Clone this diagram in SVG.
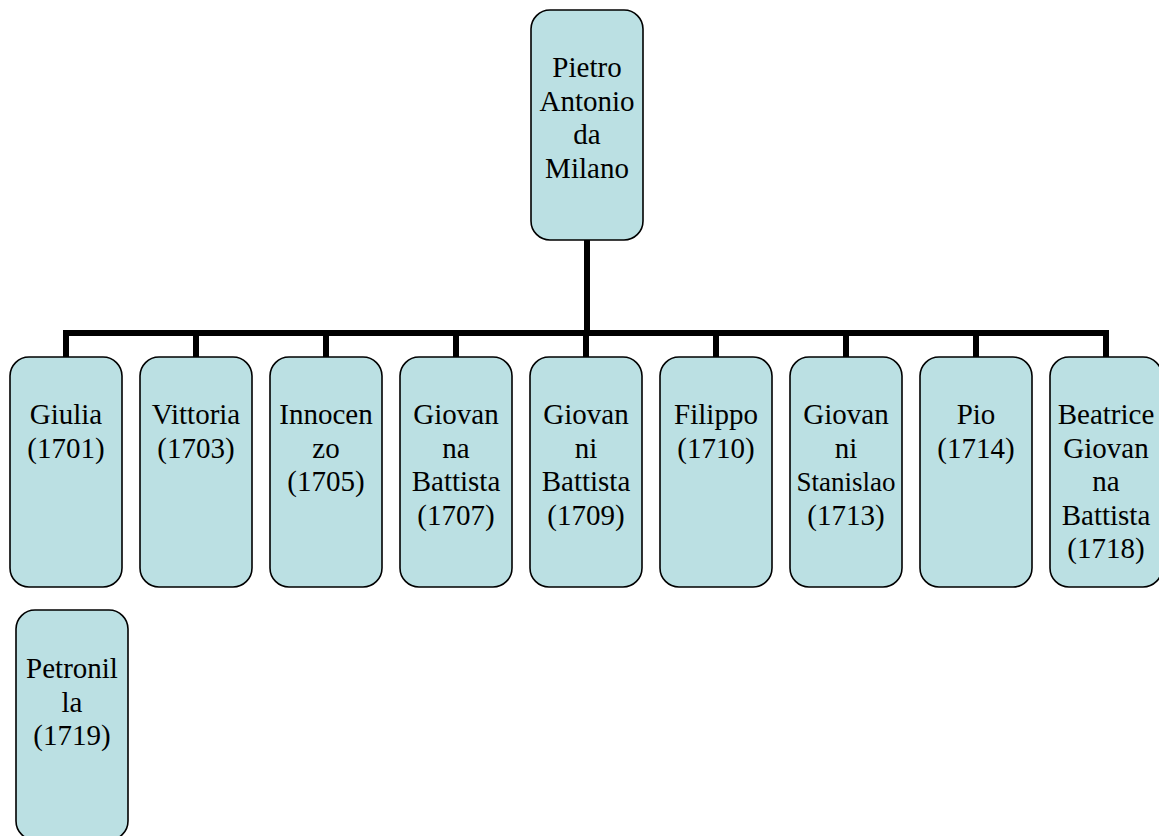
<svg xmlns="http://www.w3.org/2000/svg" width="1159" height="836" viewBox="0 0 1159 836">
<style>
.box{fill:#BBE0E3;stroke:#000;stroke-width:1.6}
.c{stroke:#000;stroke-width:6;fill:none}
</style>
<rect width="1159" height="836" fill="#fff"/>
<g id="connectors">
<line class="c" x1="587" y1="240" x2="587" y2="333"/>
<line class="c" x1="63" y1="333" x2="1109" y2="333"/>
<line class="c" x1="66" y1="330" x2="66" y2="357"/>
<line class="c" x1="196" y1="330" x2="196" y2="357"/>
<line class="c" x1="326" y1="330" x2="326" y2="357"/>
<line class="c" x1="456" y1="330" x2="456" y2="357"/>
<line class="c" x1="586" y1="330" x2="586" y2="357"/>
<line class="c" x1="716" y1="330" x2="716" y2="357"/>
<line class="c" x1="846" y1="330" x2="846" y2="357"/>
<line class="c" x1="976" y1="330" x2="976" y2="357"/>
<line class="c" x1="1106" y1="330" x2="1106" y2="357"/>
</g>
<g font-family="Liberation Serif, DejaVu Serif, serif" font-size="29" fill="#000" text-anchor="middle">
<g id="root">
<rect class="box" x="531" y="10" width="112" height="230" rx="19"/>
<text x="587" y="77">Pietro</text>
<text x="587" y="110.5">Antonio</text>
<text x="587" y="144">da</text>
<text x="587" y="177.5">Milano</text>
</g>
<g id="giulia">
<rect class="box" x="10" y="357" width="112" height="230" rx="19"/>
<text x="66" y="424">Giulia</text>
<text x="66" y="457.5">(1701)</text>
</g>
<g id="vittoria">
<rect class="box" x="140" y="357" width="112" height="230" rx="19"/>
<text x="196" y="424">Vittoria</text>
<text x="196" y="457.5">(1703)</text>
</g>
<g id="innocenzo">
<rect class="box" x="270" y="357" width="112" height="230" rx="19"/>
<text x="326" y="424">Innocen</text>
<text x="326" y="457.5">zo</text>
<text x="326" y="491">(1705)</text>
</g>
<g id="giovanna">
<rect class="box" x="400" y="357" width="112" height="230" rx="19"/>
<text x="456" y="424">Giovan</text>
<text x="456" y="457.5">na</text>
<text x="456" y="491">Battista</text>
<text x="456" y="524.5">(1707)</text>
</g>
<g id="giovanni1709">
<rect class="box" x="530" y="357" width="112" height="230" rx="19"/>
<text x="586" y="424">Giovan</text>
<text x="586" y="457.5">ni</text>
<text x="586" y="491">Battista</text>
<text x="586" y="524.5">(1709)</text>
</g>
<g id="filippo">
<rect class="box" x="660" y="357" width="112" height="230" rx="19"/>
<text x="716" y="424">Filippo</text>
<text x="716" y="457.5">(1710)</text>
</g>
<g id="giovanni1713">
<rect class="box" x="790" y="357" width="112" height="230" rx="19"/>
<text x="846" y="424">Giovan</text>
<text x="846" y="457.5">ni</text>
<text x="846" y="491" font-size="27">Stanislao</text>
<text x="846" y="524.5">(1713)</text>
</g>
<g id="pio">
<rect class="box" x="920" y="357" width="112" height="230" rx="19"/>
<text x="976" y="424">Pio</text>
<text x="976" y="457.5">(1714)</text>
</g>
<g id="beatrice">
<rect class="box" x="1050" y="357" width="112" height="230" rx="19"/>
<text x="1106" y="424">Beatrice</text>
<text x="1106" y="457.5">Giovan</text>
<text x="1106" y="491">na</text>
<text x="1106" y="524.5">Battista</text>
<text x="1106" y="558">(1718)</text>
</g>
<g id="petronilla">
<rect class="box" x="16" y="610" width="112" height="230" rx="19"/>
<text x="72" y="678">Petronil</text>
<text x="72" y="711.5">la</text>
<text x="72" y="745">(1719)</text>
</g>
</g>
</svg>
